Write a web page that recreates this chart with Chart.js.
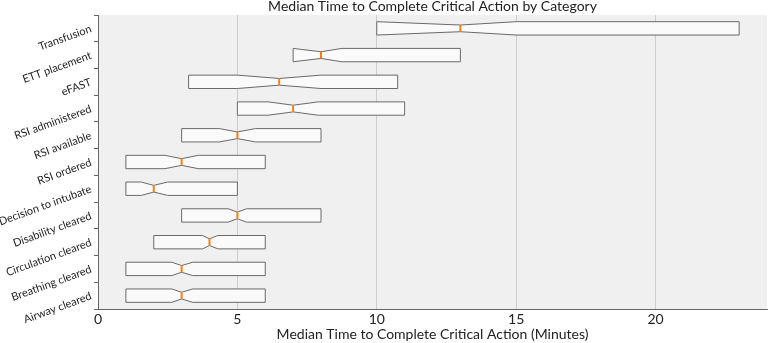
<!DOCTYPE html>
<html>
<head>
<meta charset="utf-8">
<script src="https://cdn.jsdelivr.net/npm/chart.js@4.4.1/dist/chart.umd.min.js"></script>
<style>
  html, body { margin: 0; padding: 0; background: #ffffff; }
  #wrap { width: 768px; height: 343px; position: relative; }
</style>
</head>
<body>
<div id="wrap"><canvas id="c" width="768" height="343"></canvas></div>
<script>
// ---- Data (top to bottom as shown) ----
const categories = ['Transfusion', 'ETT placement', 'eFAST', 'RSI administered', 'RSI available',
  'RSI ordered', 'Decision to intubate', 'Disability cleared', 'Circulation cleared',
  'Breathing cleared', 'Airway cleared'];
const q1Values     = [10, 7, 3.25, 5, 3, 1, 1, 3, 2, 1, 1];
const medianValues = [13, 8, 6.5, 7, 5, 3, 2, 5, 4, 3, 3];
const q3Values     = [23, 13, 10.75, 11, 8, 6, 5, 8, 6, 6, 6];
const notchLow     = [10, 7, 5, 6.1, 4.35, 2.4, 1.55, 4.67, 3.75, 2.65, 2.65];
const notchHigh    = [15, 8.75, 8, 7.9, 5.65, 3.6, 2.5, 5.33, 4.3, 3.4, 3.4];
const xTickValues  = [0, 5, 10, 15, 20];

const chartTitle = 'Median Time to Complete Critical Action by Category';
const xTitle = 'Median Time to Complete Critical Action (Minutes)';
const FONT = 'Lato';

const bgPlugin = {
  id: 'plotBg',
  beforeDraw(chart) {
    const {ctx, chartArea: a} = chart;
    ctx.save();
    ctx.fillStyle = '#f0f0f0';
    ctx.fillRect(a.left, a.top, a.right - a.left, a.bottom - a.top);
    ctx.restore();
  }
};

const notchPlugin = {
  id: 'notchBoxes',
  afterDatasetsDraw(chart) {
    const {ctx} = chart;
    const xs = chart.scales.x, ys = chart.scales.y;
    const step = ys.getPixelForValue(1) - ys.getPixelForValue(0);
    const h = step * 0.25;
    ctx.save();
    categories.forEach((c, i) => {
      const y = ys.getPixelForValue(i);
      const X = v => xs.getPixelForValue(v);
      ctx.beginPath();
      ctx.moveTo(X(q1Values[i]), y - h);
      ctx.lineTo(X(notchLow[i]), y - h);
      ctx.lineTo(X(medianValues[i]), y - h / 2);
      ctx.lineTo(X(notchHigh[i]), y - h);
      ctx.lineTo(X(q3Values[i]), y - h);
      ctx.lineTo(X(q3Values[i]), y + h);
      ctx.lineTo(X(notchHigh[i]), y + h);
      ctx.lineTo(X(medianValues[i]), y + h / 2);
      ctx.lineTo(X(notchLow[i]), y + h);
      ctx.lineTo(X(q1Values[i]), y + h);
      ctx.closePath();
      ctx.fillStyle = '#fafafa';
      ctx.fill();
      ctx.lineWidth = 1;
      ctx.strokeStyle = '#6a6a6a';
      ctx.stroke();
      ctx.beginPath();
      ctx.moveTo(X(medianValues[i]), y - h / 2);
      ctx.lineTo(X(medianValues[i]), y + h / 2);
      ctx.lineWidth = 2;
      ctx.strokeStyle = '#ff7f0e';
      ctx.stroke();
    });
    ctx.restore();
  },
  afterDraw(chart) {
    const {ctx, chartArea: a} = chart;
    ctx.save();
    ctx.font = '14px ' + FONT;
    ctx.fillStyle = '#222222';
    ctx.textAlign = 'center';
    ctx.textBaseline = 'middle';
    ctx.fillText(chartTitle, (a.left + a.right) / 2, 6);
    ctx.restore();
  }
};

new Chart(document.getElementById('c'), {
  type: 'bar',
  data: {
    labels: categories,
    datasets: [{
      data: categories.map((c, i) => [q1Values[i], q3Values[i]]),
      backgroundColor: 'rgba(0,0,0,0)',
      borderWidth: 0,
      barPercentage: 0.5,
      categoryPercentage: 1
    }]
  },
  options: {
    indexAxis: 'y',
    responsive: false,
    animation: false,
    layout: { padding: { top: 15, right: 1, left: 0, bottom: 0 } },
    plugins: { legend: { display: false }, tooltip: { enabled: false }, title: { display: false } },
    scales: {
      x: {
        type: 'linear',
        min: 0, max: 24,
        afterFit: s => { s.height = 34; },
        afterBuildTicks: s => { s.ticks = xTickValues.map(v => ({value: v})); },
        ticks: { font: { family: FONT, size: 14 }, color: '#222', padding: 2, includeBounds: false },
        grid: { color: '#cccccc', lineWidth: 1, drawTicks: false },
        border: { display: true, color: '#666666' },
        title: { display: true, text: xTitle, font: { family: FONT, size: 14 }, color: '#222', padding: { top: 0, bottom: 0 } }
      },
      y: {
        type: 'category',
        afterFit: s => { s.width = 98; },
        ticks: { font: { family: FONT, size: 11 }, color: '#222', minRotation: 20, maxRotation: 20, padding: 3 },
        grid: { drawOnChartArea: false, drawTicks: true, tickLength: 4, color: '#666666' },
        border: { display: true, color: '#666666' }
      }
    }
  },
  plugins: [bgPlugin, notchPlugin]
});
</script>
</body>
</html>
